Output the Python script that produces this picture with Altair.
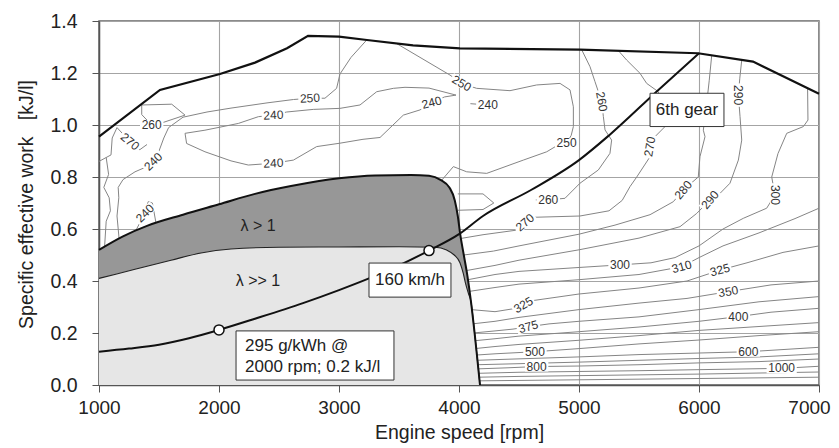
import altair as alt
import pandas as pd

# ---------------- axes ----------------
X_TICKS = [1000, 2000, 3000, 4000, 5000, 6000, 7000]
Y_TICKS = [0.0, 0.2, 0.4, 0.6, 0.8, 1.0, 1.2, 1.4]

# ---------------- boundary curves (rpm, kJ/l) ----------------
FULL_LOAD = [(1000, 0.955), (1508, 1.135), (2008, 1.196), (2300, 1.24), (2567, 1.295),
             (2742, 1.343), (3000, 1.34), (3233, 1.327), (3617, 1.306), (4008, 1.295),
             (5008, 1.29), (5992, 1.276), (6450, 1.244), (7000, 1.12)]

LEAN_TOP = [(1000, 0.52), (1200, 0.572), (1400, 0.612), (1700, 0.655), (2000, 0.695),
            (2300, 0.735), (2600, 0.765), (3000, 0.795), (3300, 0.806), (3600, 0.808),
            (3750, 0.805), (3850, 0.788), (3920, 0.76), (3965, 0.71), (3990, 0.65),
            (4010, 0.58), (4040, 0.50), (4070, 0.42), (4100, 0.32), (4130, 0.20),
            (4155, 0.09), (4175, 0.0)]

ULTRALEAN_TOP = [(1000, 0.41), (1300, 0.445), (1600, 0.48), (1850, 0.508), (2100, 0.523),
                 (2500, 0.53), (3000, 0.531), (3500, 0.532), (3800, 0.53), (3897, 0.519),
                 (3960, 0.50), (4008, 0.47), (4035, 0.43), (4055, 0.39), (4080, 0.35),
                 (4100, 0.32), (4130, 0.20), (4155, 0.09), (4175, 0.0)]

GEAR6 = [(1000, 0.128), (1250, 0.14), (1500, 0.155), (1750, 0.18), (2000, 0.212),
         (2300, 0.255), (2700, 0.315), (3000, 0.365), (3250, 0.41), (3500, 0.46),
         (3750, 0.517), (4000, 0.58), (4200, 0.65), (4600, 0.75), (5000, 0.865),
         (5250, 0.96), (5650, 1.13), (6000, 1.276)]

GEAR_POINTS = [(2000, 0.212), (3750, 0.517)]

# ---------------- BSFC contours (g/kWh) ----------------
C270_LEFT = [(1000, 0.86), (1100, 0.885), (1110, 0.95), (1150, 0.99), (1258, 0.936),
             (1340, 0.905), (1400, 0.925)]
C_LEFT_EDGE = [(1060, 0.875), (1080, 0.81), (1040, 0.76), (1085, 0.72), (1095, 0.67),
               (1060, 0.63), (1045, 0.52)]
C240_BUMP = [(1290, 0.58), (1383, 0.66), (1410, 0.705), (1445, 0.70), (1480, 0.61)]
C260_LOOP = [(1356, 1.077), (1606, 1.08), (1717, 1.038), (1536, 1.01), (1439, 1.0),
             (1356, 1.04), (1356, 1.077)]
C250_LEFT = [(1170, 0.55), (1150, 0.65), (1165, 0.72), (1160, 0.76), (1200, 0.79),
             (1300, 0.82), (1400, 0.84), (1453, 0.859), (1500, 0.9), (1540, 0.95),
             (1580, 0.99), (1700, 1.03), (1900, 1.05), (2100, 1.065), (2400, 1.085),
             (2620, 1.098), (2758, 1.103), (2883, 1.103), (2980, 1.141), (3008, 1.196),
             (3100, 1.26), (3231, 1.327)]
C240_LOOP = [(1717, 0.968), (1730, 0.929), (1883, 0.897), (2100, 0.862), (2244, 0.846),
             (2453, 0.853), (2620, 0.865), (2814, 0.917), (3008, 0.93), (3200, 0.945),
             (3342, 0.952), (3450, 1.0), (3536, 1.038), (3675, 1.058), (3772, 1.086),
             (3880, 1.108), (3975, 1.115), (3750, 1.142), (3550, 1.145), (3453, 1.141),
             (3314, 1.128), (3175, 1.077), (3008, 1.064), (2786, 1.06), (2564, 1.05),
             (2453, 1.038), (2328, 1.032), (2161, 1.006), (1883, 0.98), (1717, 0.968)]
C240_ISLAND = [(4095, 1.082), (4240, 1.077)]
C250_RIGHT = [(3481, 1.313), (3925, 1.192), (4022, 1.16), (4147, 1.141), (4425, 1.132),
              (4647, 1.154), (4842, 1.16), (4925, 1.135), (4953, 1.07), (4953, 0.994),
              (4935, 0.96), (4897, 0.93), (4825, 0.923), (4731, 0.897), (4536, 0.865),
              (4231, 0.814), (4064, 0.82), (3953, 0.84), (3842, 0.78)]
C_SMALL_LOOP = [(3990, 0.735), (4200, 0.735), (4290, 0.70), (4200, 0.675), (3990, 0.672)]
C260_RIGHT = [(4640, 0.712), (4744, 0.712), (4883, 0.718), (5008, 0.776), (5161, 0.827),
              (5258, 0.891), (5272, 0.942), (5217, 0.981), (5203, 1.032), (5189, 1.09),
              (5133, 1.167), (5092, 1.224), (5022, 1.29)]
C270_RIGHT = [(4020, 0.564), (4200, 0.578), (4470, 0.595), (4550, 0.625), (4620, 0.645),
              (5008, 0.65), (5250, 0.67), (5360, 0.71), (5425, 0.763), (5481, 0.80),
              (5592, 0.878), (5590, 0.917), (5633, 0.955), (5717, 0.994), (5700, 1.06),
              (5661, 1.128), (5564, 1.16), (5508, 1.199), (5397, 1.25), (5328, 1.286)]
C280 = [(4040, 0.50), (4286, 0.515), (4500, 0.535), (5000, 0.58), (5300, 0.615),
        (5592, 0.655), (5786, 0.705), (5869, 0.75), (5994, 0.80), (6008, 0.878),
        (6050, 0.955), (6036, 0.98), (6064, 1.083), (6085, 1.17), (6106, 1.268)]
C290 = [(4060, 0.44), (4300, 0.46), (4500, 0.48), (5000, 0.52), (5500, 0.565),
        (5842, 0.609), (5981, 0.66), (6092, 0.712), (6175, 0.737), (6258, 0.776),
        (6328, 0.865), (6356, 0.942), (6342, 1.032), (6328, 1.115), (6340, 1.18),
        (6356, 1.25)]
C300 = [(4075, 0.405), (4300, 0.425), (4500, 0.437), (5000, 0.452), (5342, 0.462),
        (5600, 0.47), (5800, 0.49), (6000, 0.535), (6200, 0.60), (6369, 0.641),
        (6564, 0.68), (6633, 0.731), (6606, 0.80), (6658, 0.89), (6731, 0.968),
        (6870, 0.994), (6908, 1.019), (6905, 1.14)]
C310 = [(4085, 0.36), (4300, 0.375), (4500, 0.388), (5000, 0.405), (5500, 0.425),
        (5856, 0.455), (6000, 0.49), (6200, 0.535), (6500, 0.585), (6800, 0.64),
        (7000, 0.68)]
C325 = [(4100, 0.29), (4300, 0.282), (4450, 0.293), (4536, 0.308), (4620, 0.325),
        (5000, 0.35), (5500, 0.373), (5900, 0.40), (6175, 0.442), (6400, 0.47),
        (6700, 0.51), (7000, 0.535)]
C350 = [(4110, 0.235), (4300, 0.245), (4500, 0.26), (5000, 0.29), (5500, 0.315),
        (5900, 0.333), (6244, 0.359), (6600, 0.385), (7000, 0.40)]
C375 = [(4118, 0.20), (4300, 0.208), (4450, 0.215), (4578, 0.224), (4750, 0.235),
        (5000, 0.245), (5500, 0.262), (6000, 0.29), (6500, 0.32), (7000, 0.34)]
C400 = [(4125, 0.17), (4300, 0.178), (4500, 0.188), (5000, 0.205), (5500, 0.223),
        (6000, 0.245), (6328, 0.263), (6600, 0.28), (7000, 0.295)]
C450 = [(4132, 0.14), (4300, 0.148), (4500, 0.156), (5000, 0.172), (5500, 0.19),
        (6000, 0.21), (6500, 0.225), (7000, 0.24)]
C500 = [(4138, 0.115), (4300, 0.12), (4633, 0.128), (5000, 0.14), (5500, 0.158),
        (6000, 0.173), (6500, 0.19), (7000, 0.205)]
C600 = [(4144, 0.095), (4400, 0.099), (5000, 0.108), (5500, 0.117), (6000, 0.123),
        (6411, 0.128), (7000, 0.145)]
C700 = [(4150, 0.078), (4500, 0.082), (5000, 0.088), (5500, 0.095), (6000, 0.102),
        (6500, 0.108), (7000, 0.12)]
C800 = [(4155, 0.062), (4400, 0.066), (4647, 0.071), (5000, 0.073), (5500, 0.078),
        (6000, 0.085), (6500, 0.09), (7000, 0.10)]
C1000 = [(4160, 0.045), (4500, 0.049), (5000, 0.052), (5500, 0.055), (6000, 0.059),
         (6689, 0.064), (7000, 0.072)]
C1200 = [(4165, 0.03), (4500, 0.033), (5000, 0.036), (6000, 0.042), (7000, 0.05)]
C1500 = [(4170, 0.016), (5000, 0.02), (6000, 0.025), (7000, 0.03)]

CONTOUR_SET = [C270_LEFT, C_LEFT_EDGE, C240_BUMP, C260_LOOP, C250_LEFT, C240_LOOP,
               C240_ISLAND, C250_RIGHT, C_SMALL_LOOP, C260_RIGHT, C270_RIGHT, C280, C290,
               C300, C310, C325, C350, C375, C400, C450, C500, C600, C700, C800, C1000,
               C1200, C1500]

# contour labels: x, y, text, rotation (deg, clockwise)
LABEL_X = [1258, 1439, 1453, 1383, 2453, 2453, 2758, 3772, 4240, 4022, 4897, 5189, 4744,
           5590, 4550, 5869, 6092, 6328, 6633, 5342, 5856, 6175, 4536, 6244, 4578, 6328,
           4633, 6411, 4647, 6689]
LABEL_Y = [0.936, 1.0, 0.859, 0.66, 1.038, 0.853, 1.103, 1.086, 1.077, 1.16, 0.93, 1.09,
           0.712, 0.917, 0.625, 0.75, 0.712, 1.115, 0.731, 0.462, 0.455, 0.442, 0.308,
           0.359, 0.224, 0.263, 0.128, 0.128, 0.071, 0.064]
LABEL_TEXT = ["270", "260", "240", "240", "240", "240", "250", "240", "240", "250", "250",
              "260", "260", "270", "270", "280", "290", "290", "300", "300", "310", "325",
              "325", "350", "375", "400", "500", "600", "800", "1000"]
LABEL_ANGLE = [40, 0, 315, 315, 357, 357, 357, 345, 0, 30, 0, 80, 0, 280, 320, 310, 310,
               90, 90, 0, 345, 345, 330, 350, 345, 0, 0, 0, 0, 0]

# annotation boxes (x1, x2, y1, y2) and texts
BOX_X1 = [5592, 3250, 2142]
BOX_X2 = [6208, 3933, 3458]
BOX_Y1 = [0.994, 0.338, 0.019]
BOX_Y2 = [1.122, 0.469, 0.208]
BOX_TEXT_X = [5900, 3592, 2217, 2217]
BOX_TEXT_Y = [1.058, 0.404, 0.151, 0.070]
BOX_TEXT = ["6th gear", "160 km/h", "295 g/kWh @", "2000 rpm; 0.2 kJ/l"]
BOX_TEXT_ALIGN = ["center", "center", "left", "left"]

REGION_TEXT_X = [2325, 2325]
REGION_TEXT_Y = [0.613, 0.40]
REGION_TEXT = ["\u03bb > 1", "\u03bb >> 1"]

# ---------------- build tables ----------------
def pts_df(pts):
    return pd.DataFrame({"x": [p[0] for p in pts], "y": [p[1] for p in pts],
                         "o": list(range(len(pts)))})

rows = []
for cid, pts in enumerate(CONTOUR_SET):
    for i, (xv, yv) in enumerate(pts):
        rows.append({"id": cid, "o": i, "x": xv, "y": yv})
contours_df = pd.DataFrame(rows)

def mask_path(txt):
    hw = (len(txt) * 6.8 + 3) / 20.0
    hh = 0.5
    return f"M{-hw},{-hh}L{hw},{-hh}L{hw},{hh}L{-hw},{hh}Z"

labels_df = pd.DataFrame({"x": LABEL_X, "y": LABEL_Y, "t": LABEL_TEXT, "a": LABEL_ANGLE,
                          "p": [mask_path(t) for t in LABEL_TEXT]})
boxes_df = pd.DataFrame({"x": BOX_X1, "x2": BOX_X2, "y": BOX_Y1, "y2": BOX_Y2})
boxtext_df = pd.DataFrame({"x": BOX_TEXT_X, "y": BOX_TEXT_Y, "t": BOX_TEXT,
                           "al": BOX_TEXT_ALIGN})
region_df = pd.DataFrame({"x": REGION_TEXT_X, "y": REGION_TEXT_Y, "t": REGION_TEXT})

FONT = "Liberation Sans"

X_AX = alt.Axis(values=X_TICKS, format="d", title="Engine speed [rpm]", grid=True,
                gridColor="#a4a4a4", gridWidth=1.1, tickSize=7, tickColor="#555",
                domainColor="#555", domainWidth=1.5, labelFontSize=19,
                labelColor="#222", labelPadding=6, labelFlush=False, labelOverlap=False,
                labelOffset=alt.ExprRef(expr="datum.value == 7000 ? -10 : 0"),
                titleFontSize=19.5,
                titleFontWeight="normal", titleColor="#222", titleBaseline="alphabetic",
                titleY=53)
Y_AX = alt.Axis(values=Y_TICKS, format=".1f",
                title="Specific effective work\u00a0\u00a0\u00a0[kJ/l]", grid=True,
                gridColor="#a4a4a4", gridWidth=1.1, tickSize=7, tickColor="#555",
                domainColor="#555", domainWidth=1.5, labelFontSize=19.5,
                labelColor="#222", labelPadding=15, labelFlush=False, titleFontSize=19.5,
                titleFontWeight="normal", titleColor="#222", titleBaseline="alphabetic",
                titleAngle=270, titleX=-67, titleY=183)

XS = alt.Scale(domain=[1000, 7000], nice=False, zero=False)
YS = alt.Scale(domain=[0, 1.4], nice=False)

def X(f="x"):
    return alt.X(f"{f}:Q", scale=XS, axis=X_AX)

def Y(f="y"):
    return alt.Y(f"{f}:Q", scale=YS, axis=Y_AX)

contour_layer = alt.Chart(contours_df).mark_line(
    color="#858585", strokeWidth=1, interpolate="linear").encode(
    x=X(), y=Y(), detail="id:N", order="o:Q")

dark_fill = alt.Chart(pts_df(LEAN_TOP)).mark_area(
    color="#979797", opacity=1, interpolate="monotone").encode(x=X(), y=Y())
light_fill = alt.Chart(pts_df(ULTRALEAN_TOP)).mark_area(
    color="#e6e6e6", opacity=1, interpolate="monotone").encode(x=X(), y=Y())
light_line = alt.Chart(pts_df(ULTRALEAN_TOP)).mark_line(
    color="#222", strokeWidth=1.1, interpolate="monotone").encode(x=X(), y=Y(), order="o:Q")
dark_line = alt.Chart(pts_df(LEAN_TOP)).mark_line(
    color="#111", strokeWidth=2, interpolate="monotone").encode(x=X(), y=Y(), order="o:Q")
full_line = alt.Chart(pts_df(FULL_LOAD)).mark_line(
    color="#111", strokeWidth=2.2, interpolate="linear").encode(x=X(), y=Y(), order="o:Q")
gear_line = alt.Chart(pts_df(GEAR6)).mark_line(
    color="#111", strokeWidth=2, interpolate="monotone").encode(x=X(), y=Y(), order="o:Q")

masks = alt.Chart(labels_df).mark_point(
    filled=True, color="white", opacity=1, size=400, strokeWidth=0).encode(
    x=X(), y=Y(), shape=alt.Shape("p:N", scale=None), angle=alt.Angle("a:Q", scale=None))
label_text = alt.Chart(labels_df).mark_text(
    fontSize=12, color="#333", font=FONT, baseline="middle", align="center").encode(
    x=X(), y=Y(), text="t:N", angle=alt.Angle("a:Q", scale=None))

boxes = alt.Chart(boxes_df).mark_rect(
    fill="white", stroke="#333", strokeWidth=1).encode(
    x=X(), x2="x2:Q", y=Y(), y2="y2:Q")
box_text_c = alt.Chart(boxtext_df).transform_filter(alt.datum.al == "center").mark_text(
    fontSize=17, color="#222", font=FONT, baseline="middle", align="center").encode(
    x=X(), y=Y(), text="t:N")
box_text_l = alt.Chart(boxtext_df).transform_filter(alt.datum.al == "left").mark_text(
    fontSize=17, color="#222", font=FONT, baseline="middle", align="left").encode(
    x=X(), y=Y(), text="t:N")
region_text = alt.Chart(region_df).mark_text(
    fontSize=16, color="#222", font=FONT, baseline="middle", align="center").encode(
    x=X(), y=Y(), text="t:N")

markers = alt.Chart(pts_df(GEAR_POINTS)).mark_point(
    shape="circle", filled=True, color="white", stroke="#111", strokeWidth=1.5,
    size=100, opacity=1).encode(x=X(), y=Y())

chart = alt.layer(
    contour_layer, dark_fill, light_fill, light_line, dark_line, full_line, gear_line,
    masks, label_text, boxes, box_text_c, box_text_l, region_text, markers
).properties(
    width=720, height=364,
    autosize=alt.AutoSizeParams(type="none"),
    padding={"left": 91, "top": 13, "right": 12, "bottom": 61},
).configure(font=FONT).configure_view(stroke="#666", strokeWidth=1.5)

chart.save("out.html", embed_options={"renderer": "svg", "actions": False})
